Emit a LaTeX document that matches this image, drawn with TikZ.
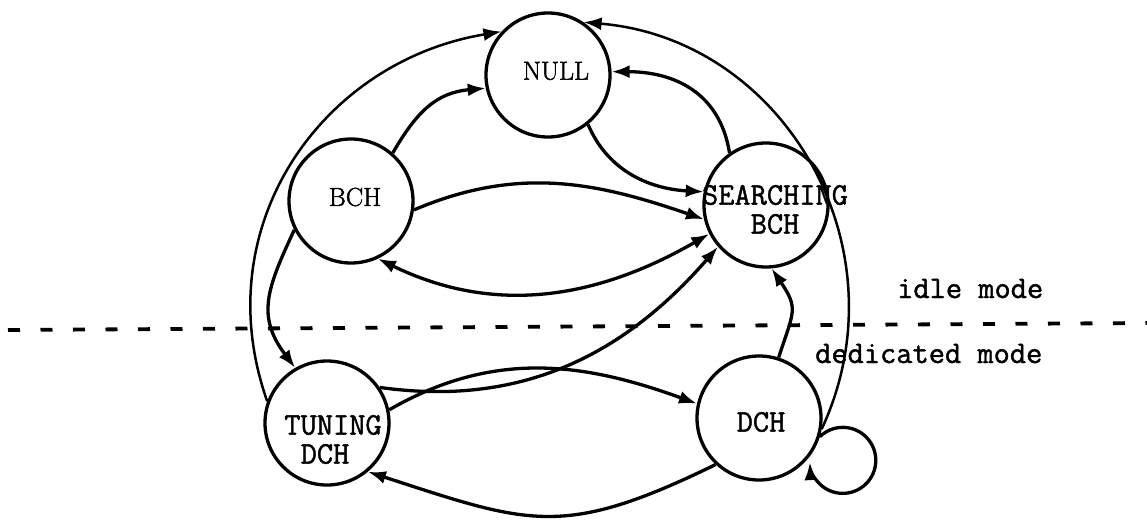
\documentclass[tikz,border=0pt]{standalone}
\usepackage{fontspec}
\newfontfamily\rmbold[FakeBold=1.5]{Latin Modern Roman}
\newfontfamily\ttbold[FakeBold=1.3]{Latin Modern Mono}
\usetikzlibrary{arrows.meta}
\begin{document}
\begin{tikzpicture}[x=1pt,y=-1pt,
  state/.style={circle,draw,line width=3.3pt,minimum size=124pt,inner sep=0pt},
  lbltt/.style={font=\fontsize{31.5}{35}\selectfont\ttbold,inner sep=0pt},
  lblrm/.style={font=\fontsize{26}{30}\selectfont\rmbold,inner sep=0pt},
  trans/.style={line width=3.3pt,-{Latex[length=18pt,width=13pt]}},
  biway/.style={line width=3.3pt,{Latex[length=18pt,width=13pt]}-{Latex[length=18pt,width=13pt]}},
  outer/.style={line width=2.5pt,-{Latex[length=18pt,width=13pt]}},
  modeline/.style={line width=3.8pt,dash pattern=on 12pt off 20.5pt},
]
\useasboundingbox (0,0) rectangle (1147,523);

% states
\node[state] (null) at (548,75) {};
\node[state] (bch) at (351,201) {};
\node[state] (sb) at (766,205) {};
\node[state] (tun) at (327,423) {};
\node[state] (dch) at (759,418) {};

% labels
\node[lblrm] (nullT) at (556,71) {NULL};
\node[lblrm] (bchT) at (355,197) {BCH};
\node[lbltt] (sbT1) at (775,195) {SEARCHING};
\node[lbltt] (sbT2) at (775,224) {BCH};
\node[lbltt] (tunT1) at (333,425) {TUNING};
\node[lbltt] (tunT2) at (325,454) {DCH};
\node[lbltt] (dchT) at (761,422) {DCH};
\node[lbltt,anchor=base west] (idle) at (897,298) {idle mode};
\node[lbltt,anchor=base west] (ded) at (815,363) {dedicated mode};

% mode separator
\coordinate (dl) at (8,330);
\coordinate (dr) at (1147,323);
\draw[modeline] (dl) -- (dr);

% outer arcs
\draw[outer] (tun.160) .. controls (205,225) and (323,61) .. (null.137);
\draw[outer] (dch.-10) .. controls (906,248) and (784,39) .. (null.56);

% transitions
\draw[trans] (bch.49) to[out=60,in=185,looseness=1.1] (null.192);
\draw[trans] (null.-51) to[out=-67,in=177] (sb.168);
\draw[trans] (sb.125) to[out=99,in=0,looseness=1.1] (null.3);
\draw[trans] (bch.-8) to[out=23,in=161] (sb.193);
\draw[biway] (sb.207) to[out=210,in=-26] (bch.-65);
\draw[trans] (bch.207) to[out=245,in=127,looseness=1.2] (tun.120);
\draw[trans] (tun.12) to[out=30,in=160] (dch.167);
\draw[trans] (dch.227) to[out=206,in=-18,looseness=1.25] (tun.-50);
\draw[trans] (dch.72) to[out=72,in=-56,looseness=1.4] (sb.-85);
\draw[trans] (tun.34) to[out=-8,in=229] (sb.221);
\draw[trans] (dch.-17) arc[start angle=-134,end angle=177,radius=33];
\end{tikzpicture}
\end{document}
